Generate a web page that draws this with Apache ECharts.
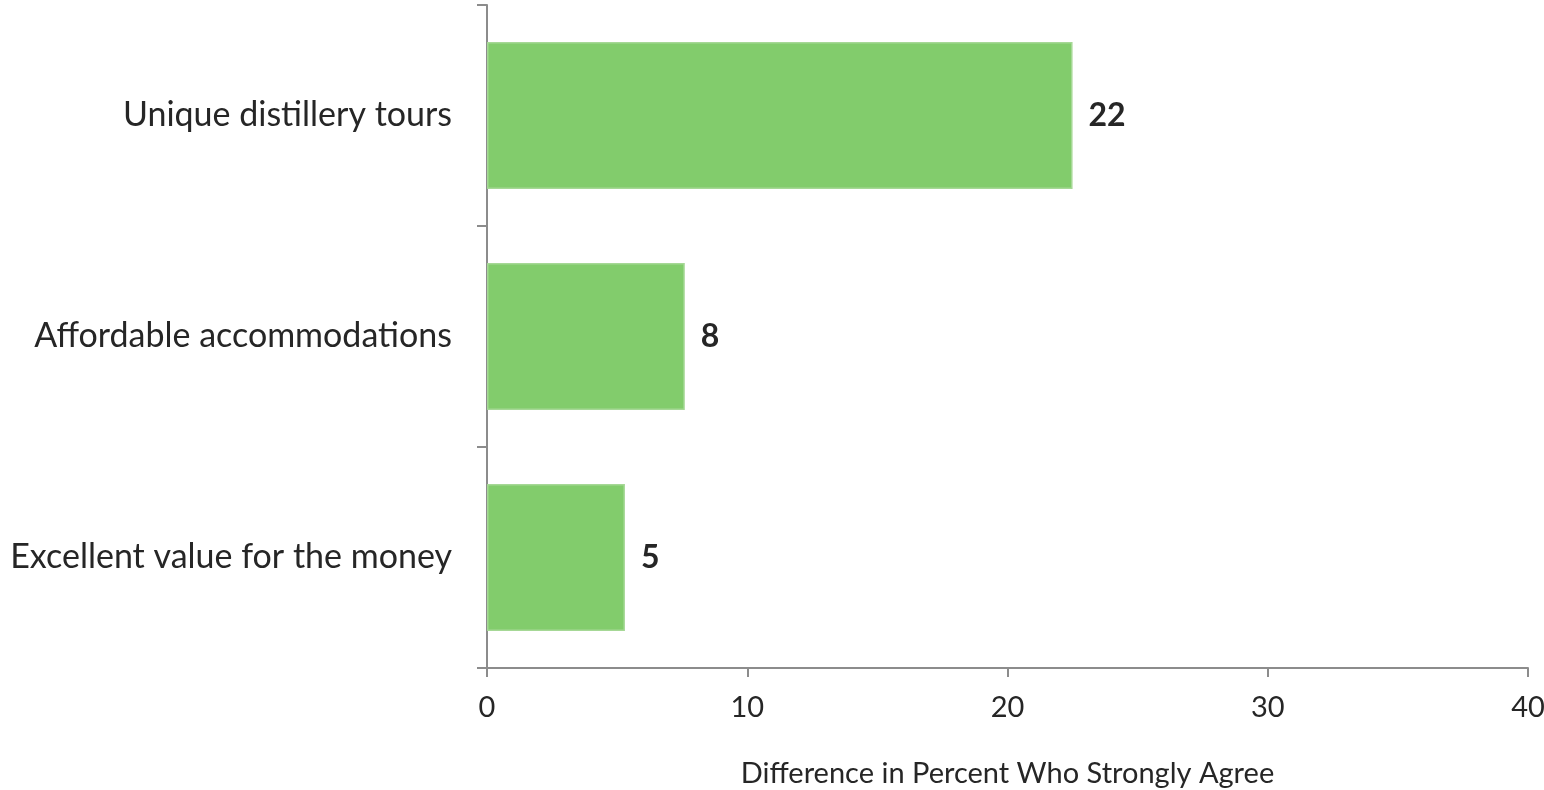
<!DOCTYPE html>
<html>
<head>
<meta charset="utf-8">
<script src="https://cdn.jsdelivr.net/npm/echarts@6/dist/echarts.min.js"></script>
<style>
html,body{margin:0;padding:0;background:#fff;}
#chart{width:1544px;height:790px;}
</style>
</head>
<body>
<div id="chart"></div>
<script>
const categories = ["Excellent value for the money", "Affordable accommodations", "Unique distillery tours"];
const values = [5.3, 7.6, 22.5];
const valueLabels = ["5", "8", "22"];
const xTicks = [0, 10, 20, 30, 40];
const axisName = "Difference in Percent Who Strongly Agree";

const FONT = "Lato, 'Open Sans', sans-serif";
const chart = echarts.init(document.getElementById('chart'), null, {renderer: 'canvas'});
chart.setOption({
  animation: false,
  backgroundColor: '#ffffff',
  grid: {left: 487, right: 16, top: 5, bottom: 122, containLabel: false, outerBoundsMode: 'none'},
  xAxis: {
    type: 'value',
    min: xTicks[0], max: xTicks[xTicks.length - 1], interval: 10,
    name: axisName, nameLocation: 'middle', nameGap: 91,
    nameTextStyle: {fontFamily: FONT, fontSize: 29, color: '#262626'},
    axisLine: {show: true, lineStyle: {color: '#8c8c8c', width: 2}},
    axisTick: {show: true, length: 9, lineStyle: {color: '#8c8c8c', width: 2}},
    splitLine: {show: false},
    axisLabel: {fontFamily: FONT, fontSize: 29, color: '#262626', margin: 25}
  },
  yAxis: {
    type: 'category',
    data: categories,
    axisLine: {show: true, lineStyle: {color: '#8c8c8c', width: 2}},
    axisTick: {show: true, length: 10, lineStyle: {color: '#8c8c8c', width: 2}},
    axisLabel: {fontFamily: FONT, fontSize: 34, color: '#262626', margin: 35}
  },
  series: [{
    type: 'bar',
    data: values,
    barCategoryGap: '33.5%',
    itemStyle: {color: '#82cc6c', borderColor: '#a6d896', borderWidth: 1.5},
    label: {
      show: true, position: 'right', distance: 16,
      fontFamily: FONT, fontSize: 32, fontWeight: 'bold', color: '#262626',
      formatter: p => valueLabels[p.dataIndex]
    }
  }]
});
</script>
</body>
</html>
